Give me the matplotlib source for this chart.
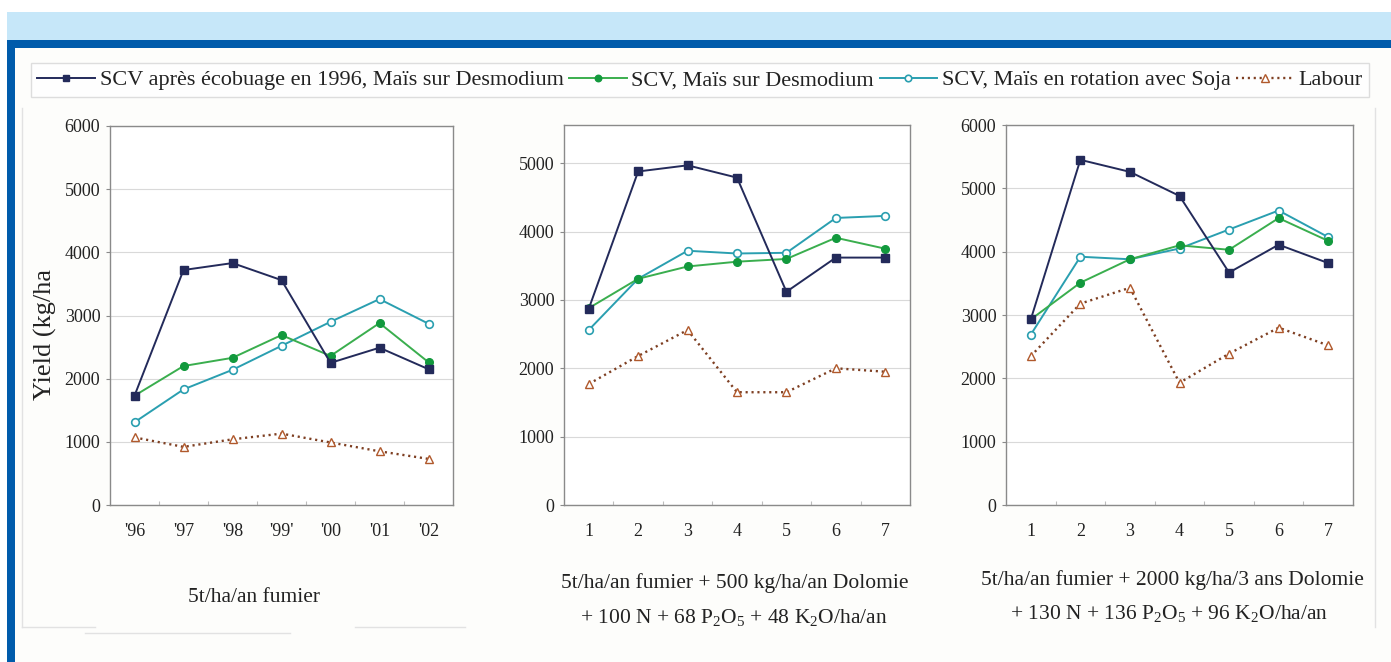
import matplotlib
matplotlib.use("Agg")
import matplotlib.pyplot as plt
from matplotlib.patches import Rectangle
from matplotlib.lines import Line2D

plt.rcParams["font.family"] = ["Liberation Serif", "DejaVu Serif"]
plt.rcParams["mathtext.fontset"] = "custom"
plt.rcParams["mathtext.rm"] = "Liberation Serif"
plt.rcParams["mathtext.it"] = "Liberation Serif:italic"

# ---- data -------------------------------------------------------------
years = ["'96", "'97", "'98", "'99'", "'00", "'01", "'02"]
steps = ["1", "2", "3", "4", "5", "6", "7"]

series_names = [
    "SCV après écobuage en 1996, Maïs sur Desmodium",
    "SCV, Maïs sur Desmodium",
    "SCV, Maïs en rotation avec Soja",
    "Labour",
]

# panel 1 : 5 t/ha/an fumier
p1_ecobuage = [1730, 3720, 3830, 3560, 2250, 2490, 2150]
p1_desmodium = [1730, 2200, 2330, 2690, 2360, 2880, 2260]
p1_soja = [1310, 1830, 2140, 2520, 2900, 3260, 2870]
p1_labour = [1070, 920, 1040, 1130, 990, 850, 730]

# panel 2 : fumier + 500 kg/ha/an dolomie + NPK
p2_ecobuage = [2870, 4880, 4970, 4790, 3120, 3620, 3620]
p2_desmodium = [2880, 3310, 3490, 3560, 3600, 3910, 3750]
p2_soja = [2560, 3310, 3720, 3680, 3690, 4200, 4230]
p2_labour = [1770, 2180, 2560, 1650, 1650, 2000, 1950]

# panel 3 : fumier + 2000 kg/ha/3 ans dolomie + NPK
p3_ecobuage = [2930, 5450, 5260, 4880, 3670, 4110, 3820]
p3_desmodium = [2930, 3510, 3880, 4100, 4030, 4530, 4170]
p3_soja = [2690, 3920, 3880, 4050, 4350, 4650, 4230]
p3_labour = [2350, 3180, 3430, 1930, 2390, 2800, 2520]

panel_titles = [
    ["5t/ha/an fumier"],
    ["5t/ha/an fumier + 500 kg/ha/an Dolomie",
     "+ 100 N + 68 P$_2$O$_5$ + 48 K$_2$O/ha/an"],
    ["5t/ha/an fumier + 2000 kg/ha/3 ans Dolomie",
     "+ 130 N + 136 P$_2$O$_5$ + 96 K$_2$O/ha/an"],
]

# ---- styles -----------------------------------------------------------
NAVY = "#232a5a"
GREEN_LINE = "#3aae4e"
GREEN_MK = "#12993d"
TEAL = "#2a9fb0"
BROWN = "#7e3f22"
BROWN_MK = "#b0592c"

styles = [
    dict(color=NAVY, lw=1.4, marker="s", ms=5.5, mfc=NAVY, mec=NAVY),
    dict(color=GREEN_LINE, lw=1.4, marker="o", ms=5.5, mfc=GREEN_MK, mec=GREEN_MK),
    dict(color=TEAL, lw=1.4, marker="o", ms=5.5, mfc="white", mec=TEAL, mew=1.2),
    dict(color=BROWN, lw=1.7, ls=(0, (0.9, 1.6)), marker="^", ms=6, mfc="white",
         mec=BROWN_MK, mew=1.0),
]

W, H = 1391, 662
fig = plt.figure(figsize=(W / 100, H / 100), dpi=100)
fig.patch.set_facecolor("white")


def px_rect(x0, y0, x1, y1, **kw):
    fig.patches.append(Rectangle((x0 / W, 1 - y1 / H), (x1 - x0) / W, (y1 - y0) / H,
                                 transform=fig.transFigure, figure=fig, **kw))


def px_line(x0, y0, x1, y1, **kw):
    fig.add_artist(Line2D([x0 / W, x1 / W], [1 - y0 / H, 1 - y1 / H],
                          transform=fig.transFigure, **kw))


# page frame: light band, dark rule and left bar
px_rect(15, 48, W, H, facecolor="#fdfdfb", edgecolor="none", zorder=-5)
px_rect(7, 12, W, 40, facecolor="#c6e7f9", edgecolor="none", zorder=-4)
px_rect(7, 40, W, 48, facecolor="#005bab", edgecolor="none", zorder=-3)
px_rect(7, 40, 15, H, facecolor="#005bab", edgecolor="none", zorder=-3)

# faint chart-area borders
faint = dict(color="#e2e2e2", lw=1.0, zorder=-2)
px_line(22, 108, 22, 627, **faint)
px_line(22, 627, 95, 627, **faint)
px_line(85, 633, 290, 633, **faint)
px_line(355, 627, 465, 627, **faint)
px_line(1375, 108, 1375, 627, **faint)

axes_px = [(110, 453, 126, 505), (564, 910, 125, 505), (1006, 1353, 125, 505)]
ymax = [6000, 5560, 6000]
yticks = [range(0, 6001, 1000), range(0, 5001, 1000), range(0, 6001, 1000)]
xlabels = [years, steps, steps]
data = [
    [p1_ecobuage, p1_desmodium, p1_soja, p1_labour],
    [p2_ecobuage, p2_desmodium, p2_soja, p2_labour],
    [p3_ecobuage, p3_desmodium, p3_soja, p3_labour],
]

handles = []
for i, (x0, x1, y0, y1) in enumerate(axes_px):
    ax = fig.add_axes([x0 / W, 1 - y1 / H, (x1 - x0) / W, (y1 - y0) / H])
    ax.set_facecolor("white")
    xs = list(range(1, 8))
    for j, vals in enumerate(data[i]):
        ln, = ax.plot(xs, vals, label=series_names[j], zorder=3 + (3 - j) * 0.1,
                      **styles[j])
        if i == 0:
            handles.append(ln)
    ax.set_xlim(0.5, 7.5)
    ax.set_ylim(0, ymax[i])
    ax.set_yticks(list(yticks[i]))
    ax.set_xticks(xs)
    ax.set_xticklabels(xlabels[i])
    ax.set_xticks([k + 0.5 for k in range(1, 7)], minor=True)
    ax.grid(axis="y", color="#d9d9d9", lw=0.8, zorder=0)
    ax.set_axisbelow(True)
    for sp in ax.spines.values():
        sp.set_color("#8a8a8a")
        sp.set_linewidth(1.0)
    ax.tick_params(axis="y", labelsize=13, length=3, width=0.8, color="#8a8a8a",
                   pad=4, labelcolor="#222222")
    ax.tick_params(axis="x", which="major", labelsize=13, length=0, pad=13,
                   labelcolor="#222222")
    ax.tick_params(axis="x", which="minor", length=3, width=0.8, color="#bdbdbd",
                   direction="in")

# y-axis title (left panel)
fig.text(45 / W, 1 - 335 / H, "Yield (kg/ha", rotation=90, ha="center",
         va="center", fontsize=19, color="#222222")

# treatment captions under each panel
caption_pos = [[(254, 598)], [(735, 583), (734, 617)], [(1172, 580), (1169, 614)]]
for lines, poss in zip(panel_titles, caption_pos):
    for txt, (cx, cy) in zip(lines, poss):
        fig.text(cx / W, 1 - cy / H, txt, ha="center", va="center", fontsize=15.5,
                 color="#222222")

# common legend
leg = fig.legend(handles=handles, labels=series_names, ncol=4, loc="center",
                 bbox_to_anchor=(700 / W, 1 - 80 / H), fontsize=16, frameon=True,
                 fancybox=False, edgecolor="#d6d6d6", handlelength=2.6,
                 handletextpad=0.2, columnspacing=0.25, borderpad=0.3,
                 labelcolor="#222222", markerscale=0.85)
leg.get_frame().set_linewidth(1.0)

fig.savefig("out.png", dpi=100, facecolor="white")
